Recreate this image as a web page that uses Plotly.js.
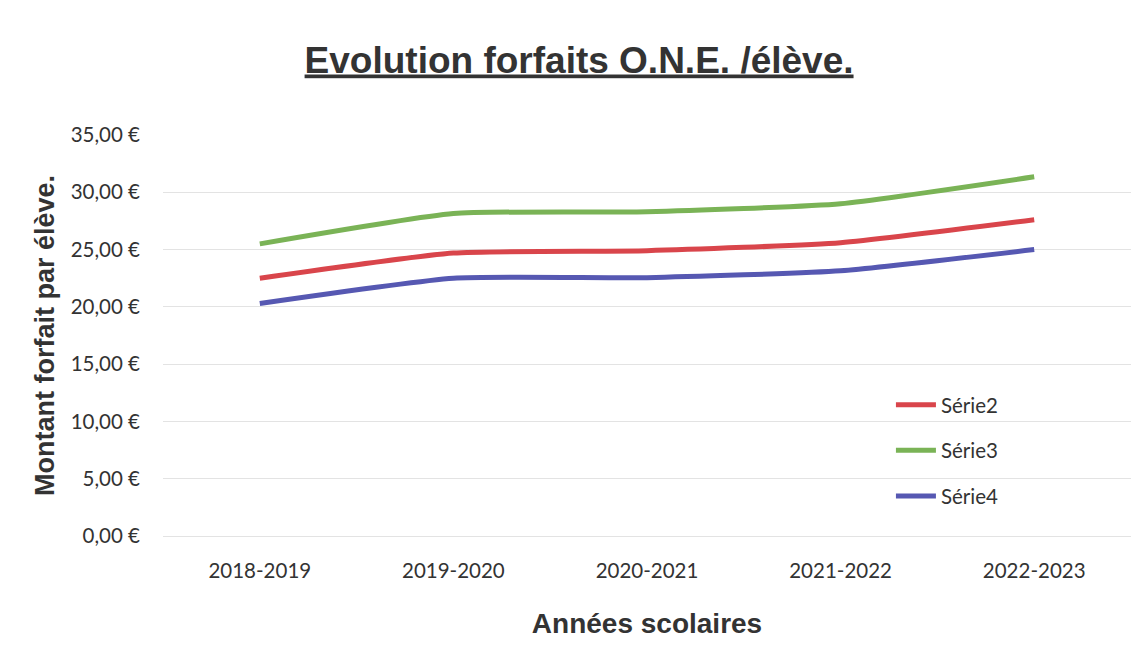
<!DOCTYPE html>
<html><head><meta charset="utf-8">
<script src="https://cdn.plot.ly/plotly-3.0.1.min.js"></script>
<style>html,body{margin:0;padding:0;background:#fff;}#chart{width:1131px;height:662px;}</style>
</head><body><div id="chart"></div>
<script>
const categories = ['2018-2019','2019-2020','2020-2021','2021-2022','2022-2023'];
const serie2 = [22.5, 24.7, 24.9, 25.6, 27.6];
const serie3 = [25.5, 28.15, 28.3, 29.0, 31.35];
const serie4 = [20.3, 22.5, 22.55, 23.15, 25.0];
const yTickVals = [0,5,10,15,20,25,30,35];
const yTickText = ['0,00 €','5,00 €','10,00 €','15,00 €','20,00 €','25,00 €','30,00 €','35,00 €'];

const lbl = {family:'Lato, "Open Sans", sans-serif', size:20.5, color:'#333'};
function tr(name, y, color){
  return {x:categories, y:y, name:name, legendgroup:name, type:'scatter', mode:'lines',
    line:{color:color, width:5, shape:'spline', smoothing:0.5}};
}
const data = [tr('Série2', serie2, '#d9454b'), tr('Série3', serie3, '#7ab356'), tr('Série4', serie4, '#5658b2')];
const layout = {
  width:1131, height:662,
  paper_bgcolor:'#fff', plot_bgcolor:'#fff',
  margin:{l:163, r:0, t:135, b:126},
  title:{text:'<u>Evolution forfaits O.N.E. /élève.</u>', x:0.512, xanchor:'center', y:0.91, yanchor:'middle',
    font:{family:'Liberation Sans, Arial, sans-serif', size:37, color:'#333', weight:'bold'}},
  xaxis:{type:'category', range:[-0.5,4.5], showgrid:false, zeroline:false, showline:false, ticks:'',
    tickfont:lbl, ticklabelstandoff:20,
    title:{text:'<b>Années scolaires</b>', standoff:32, font:{family:'Liberation Sans, Arial, sans-serif', size:28, color:'#333'}}},
  yaxis:{range:[0,35], tickvals:yTickVals, ticktext:yTickText, showgrid:true, gridcolor:'#e3e3e3', gridwidth:1,
    zeroline:true, zerolinecolor:'#e3e3e3', showline:false, ticks:'', tickfont:lbl, ticklabelstandoff:22,
    title:{text:'<b>Montant forfait par élève.</b>', standoff:8, font:{family:'Liberation Sans, Arial, sans-serif', size:27, color:'#333'}}},
  legend:{x:0.752, y:0.377, xanchor:'left', yanchor:'top', bgcolor:'rgba(0,0,0,0)', font:lbl,
    traceorder:'grouped', tracegroupgap:16, itemwidth:40},
  showlegend:true
};
Plotly.newPlot('chart', data, layout, {displayModeBar:false, staticPlot:true});
</script></body></html>
